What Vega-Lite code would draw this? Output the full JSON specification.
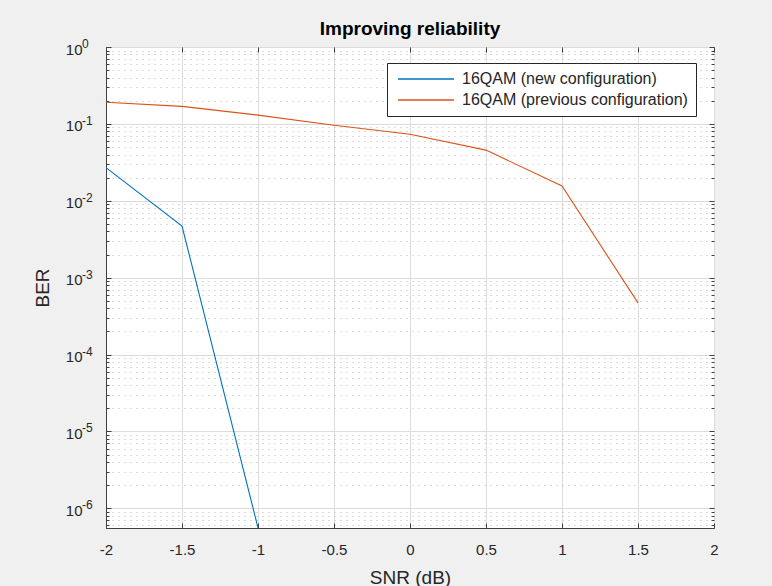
{
  "$schema": "https://vega.github.io/schema/vega-lite/v6.json",
  "width": 608,
  "height": 481,
  "autosize": {"type": "none"},
  "padding": {"left": 106, "top": 47, "right": 58, "bottom": 58},
  "background": "#f0f0f0",
  "title": {"text": "Improving reliability", "fontSize": 19, "fontWeight": "bold", "font": "Liberation Sans", "color": "#000000", "frame": "group", "anchor": "middle", "offset": -1},
  "config": {
    "view": {"fill": "#ffffff", "stroke": "#404040", "strokeWidth": 1},
    "font": "Liberation Sans",
    "axis": {"labelFont": "Liberation Sans", "titleFont": "Liberation Sans", "labelColor": "#262626", "titleColor": "#262626", "titleFontWeight": "normal", "domainColor": "#404040", "tickColor": "#404040"}
  },
  "datasets": {
    "ber": [
      {"snr": -2, "ber": 0.027, "series": "16QAM (new configuration)"},
      {"snr": -1.5, "ber": 0.0047, "series": "16QAM (new configuration)"},
      {"snr": -1, "ber": 5.6e-7, "series": "16QAM (new configuration)"},
      {"snr": -2, "ber": 0.191, "series": "16QAM (previous configuration)"},
      {"snr": -1.5, "ber": 0.169, "series": "16QAM (previous configuration)"},
      {"snr": -1, "ber": 0.130, "series": "16QAM (previous configuration)"},
      {"snr": -0.5, "ber": 0.096, "series": "16QAM (previous configuration)"},
      {"snr": 0, "ber": 0.0735, "series": "16QAM (previous configuration)"},
      {"snr": 0.5, "ber": 0.0456, "series": "16QAM (previous configuration)"},
      {"snr": 1, "ber": 0.0156, "series": "16QAM (previous configuration)"},
      {"snr": 1.5, "ber": 0.00047, "series": "16QAM (previous configuration)"}
    ],
    "exponents": [
      {"v": 1, "e": "0"},
      {"v": 0.1, "e": "-1"},
      {"v": 0.01, "e": "-2"},
      {"v": 0.001, "e": "-3"},
      {"v": 0.0001, "e": "-4"},
      {"v": 0.00001, "e": "-5"},
      {"v": 0.000001, "e": "-6"}
    ]
  },
  "layer": [
    {
      "data": {"name": "ber"},
      "mark": {"type": "line", "strokeWidth": 1.1, "clip": true},
      "encoding": {
        "x": {"field": "snr", "type": "quantitative", "scale": {"domain": [-2, 2], "nice": false, "zero": false},
          "axis": {"title": "SNR (dB)", "titleFontSize": 19, "titlePadding": 11, "labelFontSize": 15, "values": [-2, -1.5, -1, -0.5, 0, 0.5, 1, 1.5, 2], "labelExpr": "toString(datum.value)", "grid": true, "gridColor": "#dcdcdc", "gridWidth": 1, "tickSize": -5, "labelPadding": 19, "labelFlush": false, "domain": true, "domainWidth": 1}},
        "y": {"field": "ber", "type": "quantitative", "scale": {"type": "log", "domain": [5.56e-7, 1], "nice": false},
          "axis": {"title": "BER", "titleFontSize": 19, "titlePadding": 13, "labelFontSize": 15, "labelPadding": 29, "labelOffset": 2,
            "values": [6e-7, 7e-7, 8e-7, 9e-7, 1e-6, 2e-6, 3e-6, 4e-6, 5e-6, 6e-6, 7e-6, 8e-6, 9e-6, 1e-5, 2e-5, 3e-5, 4e-5, 5e-5, 6e-5, 7e-5, 8e-5, 9e-5, 1e-4, 2e-4, 3e-4, 4e-4, 5e-4, 6e-4, 7e-4, 8e-4, 9e-4, 0.001, 0.002, 0.003, 0.004, 0.005, 0.006, 0.007, 0.008, 0.009, 0.01, 0.02, 0.03, 0.04, 0.05, 0.06, 0.07, 0.08, 0.09, 0.1, 0.2, 0.3, 0.4, 0.5, 0.6, 0.7, 0.8, 0.9, 1],
            "labelExpr": "abs(log(datum.value)/LN10 - round(log(datum.value)/LN10)) < 1e-6 ? '10' : ''",
            "grid": true,
            "gridColor": {"condition": {"test": "abs(log(datum.value)/LN10 - round(log(datum.value)/LN10)) < 1e-6", "value": "#dcdcdc"}, "value": "#b8b8b8"},
            "gridDash": {"condition": {"test": "abs(log(datum.value)/LN10 - round(log(datum.value)/LN10)) < 1e-6", "value": []}, "value": [1, 5]},
            "tickSize": {"condition": {"test": "abs(log(datum.value)/LN10 - round(log(datum.value)/LN10)) < 1e-6", "value": -5}, "value": -3},
            "labelOverlap": false, "domainWidth": 1}},
        "color": {"field": "series", "type": "nominal",
          "scale": {"domain": ["16QAM (new configuration)", "16QAM (previous configuration)"], "range": ["#0072BD", "#D95319"]},
          "legend": {"title": null, "orient": "none", "legendX": 281, "legendY": 16, "fillColor": "#ffffff", "strokeColor": "#262626", "padding": 8, "symbolType": "M-1,0H10.2", "symbolSize": 100, "symbolStrokeWidth": 1.5, "labelFontSize": 16, "labelFont": "Liberation Sans", "labelColor": "#262626", "rowPadding": 5, "labelOffset": 51, "labelLimit": 400}}
      }
    },
    {
      "data": {"name": "ber"},
      "mark": {"type": "line", "strokeOpacity": 0},
      "encoding": {
        "x": {"field": "snr", "type": "quantitative", "axis": {"orient": "top", "title": null, "labels": false, "grid": false, "values": [-2, -1.5, -1, -0.5, 0, 0.5, 1, 1.5, 2], "tickSize": -5, "domain": false}},
        "y": {"field": "ber", "type": "quantitative", "axis": {"orient": "right", "title": null, "labels": false, "grid": false, "domain": false,
          "values": [6e-7, 7e-7, 8e-7, 9e-7, 1e-6, 2e-6, 3e-6, 4e-6, 5e-6, 6e-6, 7e-6, 8e-6, 9e-6, 1e-5, 2e-5, 3e-5, 4e-5, 5e-5, 6e-5, 7e-5, 8e-5, 9e-5, 1e-4, 2e-4, 3e-4, 4e-4, 5e-4, 6e-4, 7e-4, 8e-4, 9e-4, 0.001, 0.002, 0.003, 0.004, 0.005, 0.006, 0.007, 0.008, 0.009, 0.01, 0.02, 0.03, 0.04, 0.05, 0.06, 0.07, 0.08, 0.09, 0.1, 0.2, 0.3, 0.4, 0.5, 0.6, 0.7, 0.8, 0.9, 1],
          "tickSize": {"condition": {"test": "abs(log(datum.value)/LN10 - round(log(datum.value)/LN10)) < 1e-6", "value": -5}, "value": -3}}},
        "detail": {"field": "series", "type": "nominal"}
      }
    },
    {
      "data": {"name": "exponents"},
      "mark": {"type": "text", "align": "left", "baseline": "alphabetic", "dx": -24, "dy": 1, "fontSize": 12, "font": "Liberation Sans", "color": "#262626", "clip": false},
      "encoding": {
        "x": {"datum": -2, "type": "quantitative", "axis": null},
        "y": {"field": "v", "type": "quantitative", "axis": null},
        "text": {"field": "e"}
      }
    }
  ],
  "resolve": {"axis": {"x": "independent", "y": "independent"}}
}
